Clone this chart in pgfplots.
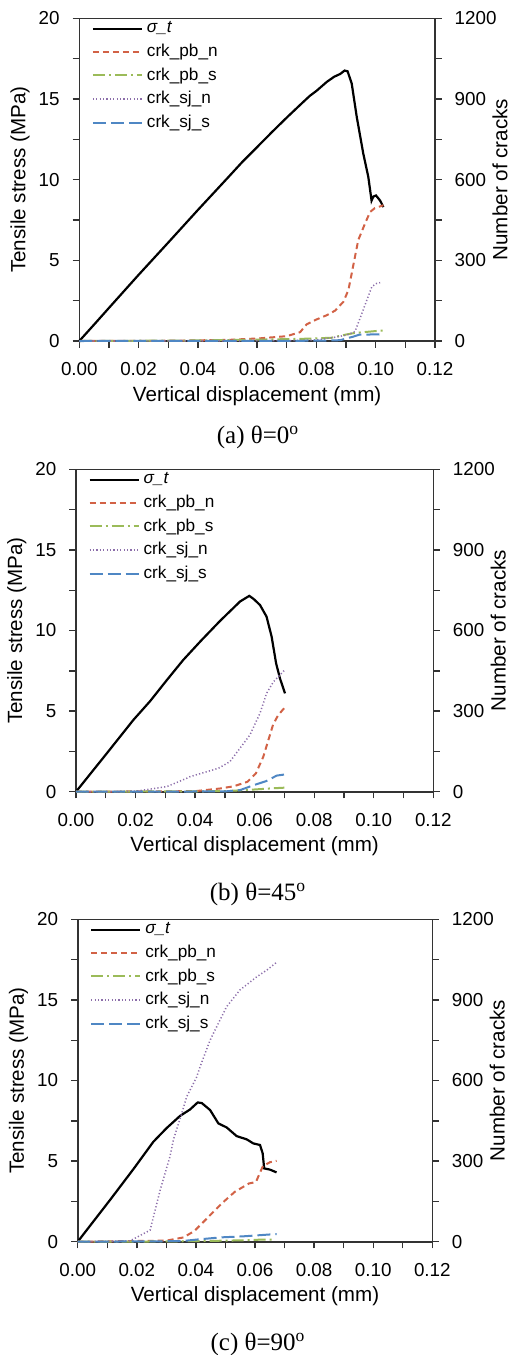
\documentclass[border=0pt]{standalone}
\usepackage{fontspec}
\setmainfont{Liberation Sans}
\newfontfamily\capfont{Liberation Serif}
\usepackage{pgfplots}
\pgfplotsset{compat=1.18}
\definecolor{cred}{RGB}{210,98,70}
\definecolor{cgreen}{RGB}{155,187,89}
\definecolor{cpurple}{RGB}{140,110,170}
\definecolor{cblue}{RGB}{79,135,196}
\pgfplotsset{
  base/.style={scale only axis, anchor=south west,
    xmin=0, xmax=0.12,
    tick align=outside, major tick length=3.3pt, minor tick length=3.3pt,
    axis line style={line width=0.8pt, black!80},
    every tick/.style={line width=0.7pt, black!80},
    tick label style={font=\fontsize{9.4}{10}\selectfont},
    /pgf/number format/assume math mode=true,
    /pgf/number format/1000 sep={},
    clip=false,
  },
  leftax/.style={base, ymin=0, ymax=20,
    xtick={0,0.02,0.04,0.06,0.08,0.1,0.12},
    minor xtick={0.01,0.03,0.05,0.07,0.09,0.11},
    xtick pos=bottom, ytick pos=left,
    ytick={0,5,10,15,20}, minor ytick={2.5,7.5,12.5,17.5},
    scaled x ticks=false,
    xticklabel style={/pgf/number format/fixed, /pgf/number format/fixed zerofill, /pgf/number format/precision=2, yshift=-4pt},
    yticklabel style={xshift=-3pt},
    xlabel={Vertical displacement (mm)},
    ylabel={Tensile stress (MPa)},
    label style={font=\fontsize{10.3}{12}\selectfont},
    xlabel style={at={([yshift=-30pt]axis description cs:0.5,0)}, anchor=base},
    ylabel style={at={([xshift=-29.6pt]axis description cs:0,0.5)}, anchor=center},
  },
  rightax/.style={base, ymin=0, ymax=1200,
    axis x line=none, axis y line*=right,
    ytick={0,300,600,900,1200}, minor ytick={150,450,750,1050},
    yticklabel style={xshift=3pt},
    ylabel={Number of cracks},
    label style={font=\fontsize{10.3}{12}\selectfont},
    ylabel style={at={([xshift=32.5pt]axis description cs:1,0.5)}, anchor=center, inner sep=1pt},
    legend cell align=left,
    legend style={draw=none, fill=none, font=\fontsize{8.6}{9}\selectfont,
      at={([xshift=5pt,yshift=1.5pt]axis description cs:0,1)}, anchor=north west,
      row sep=0.1pt, inner sep=1pt},
    legend image code/.code={\draw[##1] (0pt,0pt) -- (24.5pt,0pt);},
  },
  sig/.style={black, line width=1.1pt},
  pbn/.style={cred, line width=1pt, dash pattern=on 3pt off 2pt},
  pbs/.style={cgreen, line width=1pt, dash pattern=on 6pt off 2pt on 1pt off 2pt},
  sjn/.style={cpurple, line width=0.75pt, dash pattern=on 0.6pt off 1.1pt},
  sjs/.style={cblue, line width=1pt, dash pattern=on 6.5pt off 2.5pt},
}
\begin{document}
\begin{tikzpicture}
\path[use as bounding box] (0pt,0pt) rectangle (256.5pt,-677.5pt);
% ---------------- panel (a)
\begin{axis}[leftax, at={(39.65pt,-170.5pt)}, width=177.85pt, height=161.35pt]
\addplot[sig] table {
0 0
0.005 1.02
0.01 2.05
0.02 4.1
0.03 6.1
0.04 8.12
0.05 10.1
0.055 11.1
0.06 12.02
0.065 12.95
0.07 13.85
0.075 14.72
0.0778 15.2
0.08 15.5
0.0835 16.06
0.086 16.38
0.088 16.55
0.0895 16.76
0.0905 16.72
0.0919 15.96
0.0936 13.89
0.0958 11.62
0.0975 10.17
0.0986 8.7
0.0992 8.95
0.1001 9.02
0.1015 8.7
0.1026 8.3
};
\end{axis}
\begin{axis}[rightax, at={(39.65pt,-170.5pt)}, width=177.85pt, height=161.35pt]
\addlegendimage{sig}\addlegendentry{\textit{σ\_t}}
\addplot[pbn] table {
0 0
0.03 1
0.05 4
0.061 10
0.07 18
0.0745 33
0.0767 62
0.080 80
0.0835 96
0.0863 113
0.0891 146
0.0908 190
0.0925 285
0.0941 375
0.0964 437
0.0981 480
0.0997 494
0.1013 500
0.1026 505
};
\addlegendentry{crk\_pb\_n}
\addplot[pbs] table {
0 0
0.04 2
0.06 5
0.075 8
0.085 12
0.09 24
0.093 30
0.097 34
0.1 37
0.1026 39
};
\addlegendentry{crk\_pb\_s}
\addplot[sjn] table {
0 0
0.06 1
0.075 2
0.08 4
0.0857 13
0.0902 22
0.093 35
0.0947 84
0.097 152
0.0987 202
0.1003 214
0.1015 217
};
\addlegendentry{crk\_sj\_n}
\addplot[sjs] table {
0 0
0.08 1
0.088 3
0.0902 10
0.0924 16
0.0946 24
0.097 24
0.1026 25
};
\addlegendentry{crk\_sj\_s}
\end{axis}
\node[font=\capfont\fontsize{12.5}{14}\selectfont] at (129pt,-218.5pt) {(a) θ=0\textsuperscript{o}};
% ---------------- panel (b)
\begin{axis}[leftax, at={(38pt,-395.85pt)}, width=178.65pt, height=161.2pt]
\addplot[sig] table {
0 0
0.01 2.3
0.01926 4.45
0.0249 5.62
0.0304 6.9
0.036 8.17
0.042 9.37
0.0484 10.6
0.0551 11.8
0.0582 12.15
0.0597 11.95
0.0618 11.58
0.064 10.86
0.0657 9.62
0.0672 7.97
0.0685 7.03
0.0702 6.1
};
\end{axis}
\begin{axis}[rightax, at={(38pt,-395.85pt)}, width=178.65pt, height=161.2pt]
\addlegendimage{sig}\addlegendentry{\textit{σ\_t}}
\addplot[pbn] table {
0 0
0.04 2
0.0484 12
0.0529 20
0.0576 37
0.0604 68
0.0629 130
0.0646 192
0.0662 250
0.0679 285
0.0700 312
};
\addlegendentry{crk\_pb\_n}
\addplot[pbs] table {
0 0
0.05 2
0.0596 8
0.065 12
0.0700 15
};
\addlegendentry{crk\_pb\_s}
\addplot[sjn] table {
0 0
0.018 1
0.0215 4
0.0305 19
0.0372 50
0.0383 56
0.0478 87
0.0517 112
0.0584 211
0.0618 292
0.064 366
0.0663 409
0.0700 452
};
\addlegendentry{crk\_sj\_n}
\addplot[sjs] table {
0 0
0.05 1
0.0551 6
0.0596 24
0.064 40
0.0674 60
0.0700 64
};
\addlegendentry{crk\_sj\_s}
\end{axis}
\node[font=\capfont\fontsize{12.5}{14}\selectfont] at (129pt,-447pt) {(b) θ=45\textsuperscript{o}};
% ---------------- panel (c)
\begin{axis}[leftax, at={(38.85pt,-620.85pt)}, width=177.3pt, height=161.2pt]
\addplot[sig] table {
0 0
0.0109 2.58
0.01884 4.5
0.0256 6.2
0.0301 7.05
0.0346 7.8
0.038 8.2
0.0406 8.64
0.042 8.6
0.0448 8.17
0.0476 7.34
0.0504 7.09
0.0538 6.55
0.0572 6.35
0.0594 6.1
0.0617 6.0
0.0626 5.48
0.0631 4.55
0.0651 4.47
0.0673 4.3
};
\end{axis}
\begin{axis}[rightax, at={(38.85pt,-620.85pt)}, width=177.3pt, height=161.2pt]
\addlegendimage{sig}\addlegendentry{\textit{σ\_t}}
\addplot[pbn] table {
0 0
0.03 4
0.0358 16
0.0395 40
0.0443 93
0.0488 143
0.0532 186
0.058 217
0.0603 222
0.0627 282
0.0651 296
0.0673 301
};
\addlegendentry{crk\_pb\_n}
\addplot[pbs] table {
0 0
0.03 1
0.045 3
0.055 5
0.0628 8
0.066 8
};
\addlegendentry{crk\_pb\_s}
\addplot[sjn] table {
0 0
0.0177 3
0.0245 43
0.0279 192
0.0312 316
0.0324 380
0.0352 478
0.0369 540
0.0403 614
0.0414 651
0.0448 750
0.0459 775
0.0504 875
0.0549 937
0.0606 986
0.064 1011
0.0671 1038
};
\addlegendentry{crk\_sj\_n}
\addplot[sjs] table {
0 0
0.035 2
0.0403 8
0.0482 16
0.056 20
0.0651 27
0.0673 28
};
\addlegendentry{crk\_sj\_s}
\end{axis}
\node[font=\capfont\fontsize{12.5}{14}\selectfont] at (129pt,-672pt) {(c) θ=90\textsuperscript{o}};
\end{tikzpicture}
\end{document}
